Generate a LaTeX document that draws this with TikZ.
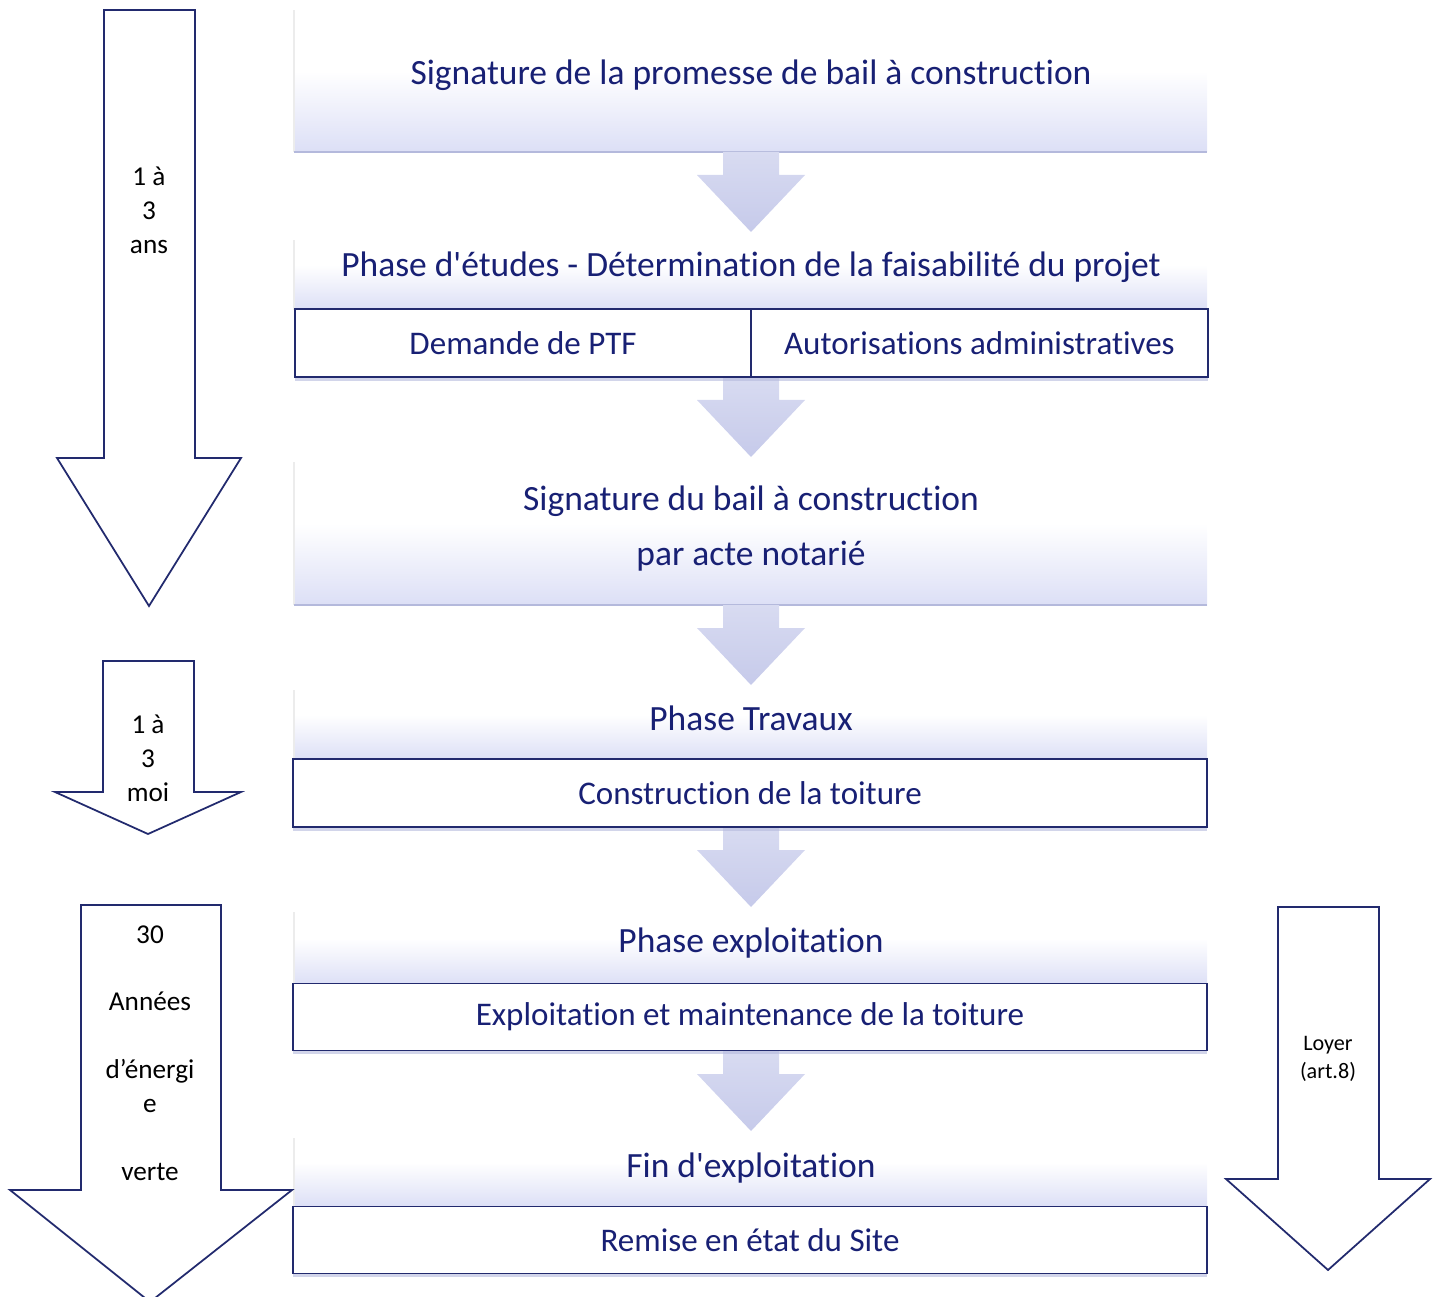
\documentclass[tikz,border=0pt]{standalone}
\usepackage{fontspec}
\setmainfont{Carlito}[Ligatures={TeXOff,NoCommon}]
\usepackage{xcolor}
\usetikzlibrary{positioning,shadows}
\definecolor{navytext}{RGB}{24,32,116}
\definecolor{navyline}{RGB}{34,42,110}
\definecolor{lavender}{RGB}{220,223,246}
\definecolor{lavshadow}{RGB}{180,185,220}
\definecolor{flowtop}{RGB}{216,219,241}
\definecolor{flowbot}{RGB}{198,202,234}

\begin{document}
\begin{tikzpicture}[
		x=0.02cm,y=-0.02cm,
		phase/.style={
		  text=navytext,
		  font=\fontsize{20.2}{31.3}\selectfont,
		  inner sep=0pt,
		  align=center
		  },
		stepbox/.style={
		  draw=navyline,
		  line width=1.1pt,
		  fill=white,
		  text=navytext,
		  font=\fontsize{18.8}{23}\selectfont,
		  inner sep=0pt,
		  outer sep=0pt,
		  drop shadow={shadow xshift=0pt,shadow yshift=-2pt,fill=lavshadow,opacity=.6}
		  },
		duration/.style={
		  text=black,
		  font=\fontsize{15.5}{19.3}\selectfont,
		  inner sep=0pt,
		  align=center
		  },
		bigarrow/.style={
		  draw=navyline,
		  line width=1pt,
		  fill=white,
		  line join=miter
		  },
		flow/.style={
		  top color=flowtop,
		  bottom color=flowbot,
		  draw=none
		  }
		]
		\useasboundingbox (0,0) rectangle (1440,1297);
		% panels
		\foreach \yt/\yb in {10/152,240/310,462/605,690/760,912/985,1138/1207}
		{
		  \shade[top color=white,bottom color=lavender] (294,{(\yt+\yb)/2-10}) rectangle (1207,\yb);
		  \draw[gray!15,line width=.6pt] (294,\yt) -- (294,\yb);
		  \draw[lavshadow,line width=1.6pt] (294,\yb) -- (1207,\yb);
		}
		% flow arrows
		\foreach \yt in {152,377,605,827,1051}
		  \shade[flow] (723,\yt) -- (779,\yt) -- (779,\yt+23) -- (805,\yt+23)
		    -- (751,\yt+80) -- (697,\yt+23) -- (723,\yt+23) -- cycle;
		% texts and boxes
		\node[phase] (promesse) at (751,75) {Signature de la promesse de bail à construction};
		\node[phase] (etudes) at (751,267) {Phase d'études - Détermination de la faisabilité du projet};
		\node[stepbox,minimum width=9.12cm,minimum height=1.36cm] (ptf) at (523,343) {Demande de PTF};
		\node[stepbox,minimum width=9.14cm,minimum height=1.36cm,right=0pt of ptf] (autor) {Autorisations administratives};
		\node[phase] (bail) at (751,529) {Signature du bail à construction\\par acte notarié};
		\node[phase] (travaux) at (751,718) {Phase Travaux};
		\node[stepbox,minimum width=18.3cm,minimum height=1.36cm] (toiture) at (750,793) {Construction de la toiture};
		\node[phase] (exploit) at (751,943) {Phase exploitation};
		\node[stepbox,minimum width=18.3cm,minimum height=1.34cm] (maint) at (750,1017) {Exploitation et maintenance de la toiture};
		\node[phase] (fin) at (751,1168) {Fin d'exploitation};
		\node[stepbox,minimum width=18.28cm,minimum height=1.34cm] (remise) at (750,1240) {Remise en état du Site};
		% duration arrows
		\draw[bigarrow] (104,10) -- (195,10) -- (195,458) -- (241,458) -- (149,606)
		  -- (57,458) -- (104,458) -- cycle;
		\draw[bigarrow] (103,661) -- (194,661) -- (194,792) -- (241,792) -- (148,834)
		  -- (55,792) -- (103,792) -- cycle;
		\draw[bigarrow] (81,905) -- (221,905) -- (221,1190) -- (292,1190) -- (150,1302)
		  -- (10,1190) -- (81,1190) -- cycle;
		\draw[bigarrow] (1278,907) -- (1379,907) -- (1379,1179) -- (1430,1179) -- (1328,1270)
		  -- (1226,1179) -- (1278,1179) -- cycle;
		\node[duration] (ans) at (149,210) {1 à\\3\\ans};
		\node[duration] (mois) at (148,758) {1 à\\3\\moi};
		\node[duration] (annees) at (150,1053) {30\\[19.3pt]Années\\[19.3pt]d’énergi\\e\\[19.3pt]verte};
		\node[duration,font=\fontsize{12.6}{16}\selectfont] (loyer) at (1328,1059) {Loyer\\(art.8)};
	\end{tikzpicture}
\end{document}
